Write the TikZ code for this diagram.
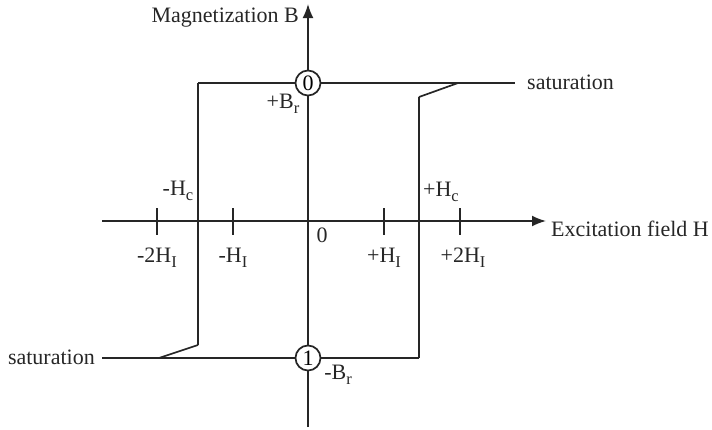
\documentclass[tikz,border=0pt]{standalone}
\usepackage{fontspec}
\setmainfont{Liberation Serif}
\usepackage{tikz}
\usetikzlibrary{arrows.meta}
\pgfdeclarelayer{edgelayer}
\pgfdeclarelayer{nodelayer}
\pgfsetlayers{edgelayer,nodelayer,main}
\newcommand{\lowsub}[1]{\raisebox{-5pt}{\fontsize{16.5}{17}\selectfont #1}}
\tikzstyle{edge}=[draw=black!85, line width=1.7pt]
\tikzstyle{axis}=[draw=black!85, line width=1.7pt, -{Latex[length=14pt,width=11pt]}]
\tikzstyle{state}=[circle, fill=white, draw=black!85, line width=1.7pt, minimum size=25pt, inner sep=0pt]
\tikzstyle{label}=[inner sep=1pt, text=black!85]

\begin{document}
\begin{tikzpicture}[x=1pt, y=-1pt, font=\fontsize{22}{25}\selectfont]
	\useasboundingbox (0,0) rectangle (712,429);
	\begin{pgfonlayer}{nodelayer}
		\node [style=state] (0) at (308, 83) {0};
		\node [style=state] (1) at (308, 358) {1};
		\coordinate (o) at (308, 221);
		\coordinate (hl) at (102, 221);
		\coordinate (hr) at (546, 221);
		\coordinate (vt) at (308, 4);
		\coordinate (vb) at (308, 427);
		\coordinate (a) at (198, 83);
		\coordinate (b) at (515, 83);
		\coordinate (c) at (458, 83);
		\coordinate (d) at (419, 97);
		\coordinate (e) at (419, 358);
		\coordinate (f) at (198, 345);
		\coordinate (g) at (159, 358);
		\coordinate (h) at (102, 358);
		\node [style=label, anchor=west] (exc) at (550, 229) {Excitation field H};
		\node [style=label, anchor=east] (magn) at (300, 18) {Magnetization B};
		\node [style=label, anchor=west] (satr) at (526, 82) {saturation};
		\node [style=label, anchor=east] (satl) at (96, 357) {saturation};
		\node [style=label] (br) at (283, 104) {+B\lowsub{r}};
		\node [style=label] (mbr) at (338, 375) {-B\lowsub{r}};
		\node [style=label] (mhc) at (178, 191) {-H\lowsub{c}};
		\node [style=label] (phc) at (441, 192) {+H\lowsub{c}};
		\node [style=label] (zero) at (322, 235) {0};
		\node [style=label] (m2h) at (157, 258) {-2H\lowsub{I}};
		\node [style=label] (m1h) at (233, 258) {-H\lowsub{I}};
		\node [style=label] (p1h) at (384, 258) {+H\lowsub{I}};
		\node [style=label] (p2h) at (463, 258) {+2H\lowsub{I}};
	\end{pgfonlayer}
	\begin{pgfonlayer}{edgelayer}
		\draw [style=axis] (hl) to (hr);
		\draw [style=axis] (vb) to (vt);
		\foreach \x in {157, 233, 384, 460}
			\draw [style=edge] (\x, 208) to (\x, 235);
		\draw [style=edge] (a) to (b);
		\draw [style=edge] (h) to (e);
		\draw [style=edge] (a) to (f);
		\draw [style=edge] (f) to (g);
		\draw [style=edge] (c) to (d);
		\draw [style=edge] (d) to (e);
	\end{pgfonlayer}
\end{tikzpicture}
\end{document}
